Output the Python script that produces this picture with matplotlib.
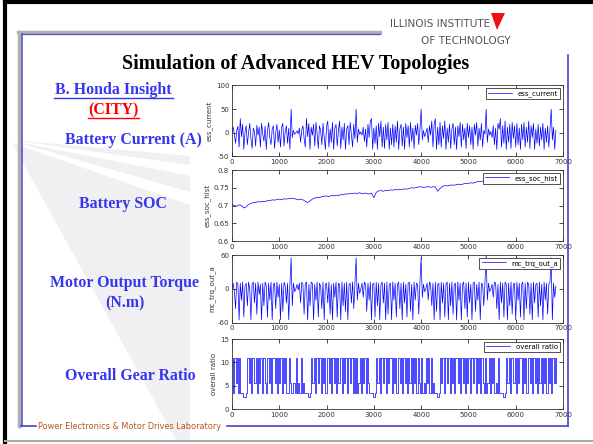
import numpy as np
import matplotlib
matplotlib.use("Agg")
import matplotlib.pyplot as plt
from matplotlib.patches import Polygon
from matplotlib.lines import Line2D

W, H = 593, 444

fast_step = 25   # sample spacing (s) for current / torque / ratio
soc_step = 50    # sample spacing (s) for SOC

ess_current = [
    0, 12, -3, -22, 5, 14, -30, 30, -8, 18, -35,
    2, 15, -25, 0, 20, -12, -33, 10, 3, -28, 16,
    -5, 12, -30, 20, -2, -18, 14, -35, 5, 22, -10,
    -25, 8, 15, -33, 0, 18, -20, 6, -30, 12, 20,
    -28, 3, 15, -22, 10, -35, 50, -10, 5, -3, 0,
    4, -2, 10, -20, 6, 15, -12, -30, 30, -8, 20,
    -35, 12, -5, 18, -28, 22, -2, -33, 15, 5, -25,
    20, -10, -35, 14, 25, -30, 8, -20, 22, -35, 10,
    18, -28, 3, 25, -33, 12, -15, 20, -35, 8, 15,
    -25, 22, -5, -30, 18, -12, 50, -20, 8, -3, 2,
    -5, 12, -18, 8, -30, 18, -10, 25, 30, -35, 10,
    -22, 15, -35, 20, -8, 25, -30, 12, -33, 18, -15,
    22, -35, 10, -25, 18, -30, 15, -20, 25, -35, 8,
    18, -28, 12, -35, 20, -10, 15, -30, 22, -18, 10,
    -33, 16, -5, 20, -25, 8, 50, -15, 5, -8, 0,
    10, -20, 15, -5, 25, -30, 18, 30, -35, 12, -25,
    22, -30, 15, -12, 25, -35, 10, -20, 18, -33, 8,
    20, -25, 12, -35, 15, -8, 22, -30, 18, -15, 10,
    -33, 20, -10, 15, -25, 12, -35, 18, -5, 22, -28,
    10, -15, 20, -30, 5, -3, 50, -20, 8, -5, 3,
    -10, 15, -25, 10, -35, 20, 8, 30, -30, 15, -22,
    25, -35, 12, -20, 18, -33, 22, -12, 15, -30, 20,
    -25, 10, -35, 18, -15, 22, -30, 12, -20, 25, -33,
    15, -10, 20, -35, 8, -22, 18, -28, 12, -15, 20,
    -35, 10, -20, 15, -30, 8, 50, -15, 12, -35, 5,
]

ess_soc_hist = [
    0.703, 0.700, 0.698, 0.702, 0.700, 0.693, 0.696, 0.703, 0.706, 0.708,
    0.708, 0.711, 0.710, 0.712, 0.711, 0.714, 0.713, 0.716, 0.715, 0.717,
    0.718, 0.716, 0.719, 0.718, 0.720, 0.719, 0.720, 0.718, 0.716, 0.718,
    0.716, 0.712, 0.708, 0.713, 0.718, 0.721, 0.723, 0.722, 0.725, 0.726,
    0.727, 0.725, 0.728, 0.727, 0.729, 0.728, 0.731, 0.730, 0.733, 0.732,
    0.734, 0.733, 0.735, 0.734, 0.736, 0.733, 0.735, 0.734, 0.732, 0.735,
    0.722, 0.737, 0.741, 0.742, 0.740, 0.743, 0.742, 0.744, 0.743, 0.745,
    0.744, 0.746, 0.745, 0.747, 0.746, 0.748, 0.750, 0.749, 0.751, 0.752,
    0.753, 0.751, 0.752, 0.753, 0.751, 0.753, 0.752, 0.740, 0.748, 0.754,
    0.756, 0.755, 0.757, 0.758, 0.757, 0.759, 0.760, 0.759, 0.761, 0.762,
    0.762, 0.764, 0.763, 0.765, 0.768, 0.767, 0.769, 0.768, 0.770, 0.769,
    0.771, 0.770, 0.762, 0.770, 0.773, 0.775, 0.774, 0.776, 0.777, 0.776,
    0.778, 0.779, 0.778, 0.780, 0.781, 0.780, 0.782, 0.783, 0.782, 0.784,
    0.785, 0.784, 0.786, 0.787, 0.786, 0.788, 0.787, 0.789,
]

mc_trq_out_a = [
    0, 10, -5, -35, 12, 8, -55, 10, -20, 12, -50,
    5, 10, -30, 12, 0, -55, 8, 12, -25, 10, -45,
    12, -10, 8, -55, 10, -30, 12, 5, -50, 10, -20,
    12, -55, 8, 10, -35, 12, -15, 8, -55, 10, -40,
    12, 5, -25, 10, -55, 8, 55, -30, 10, -5, 0,
    8, -2, 10, -25, 12, 8, -45, 10, 12, -55, 8,
    -30, 12, 10, -55, 8, -20, 12, -50, 10, 5, -35,
    12, -55, 8, 10, -25, 12, -45, 8, -55, 10, -15,
    12, -50, 10, 8, -55, 12, -30, 10, -40, 12, -55,
    8, 10, -25, 12, -35, 8, 55, -20, 10, -8, 0,
    10, -15, 12, 8, -40, 10, -20, 12, -55, 8, 10,
    -50, 12, -30, 10, -55, 8, 12, -25, 10, -55, 12,
    -45, 8, 10, -55, 12, -20, 10, -50, 8, 12, -35,
    10, -55, 12, -25, 8, -50, 10, 12, -40, 8, -55,
    12, -20, 10, 8, -45, 12, 55, -15, 8, -5, 0,
    10, -20, 12, 8, -30, 10, -55, 12, -40, 8, 10,
    -55, 12, -25, 10, -50, 8, 12, -55, 10, -30, 12,
    -45, 8, 10, -55, 12, -20, 10, -55, 8, 12, -35,
    10, -50, 12, -25, 8, -55, 10, 12, -40, 8, -20,
    12, -55, 10, 8, -30, 12, 60, -20, 10, -5, 0,
    8, -15, 12, 10, -35, 8, -55, 12, -25, 10, -50,
    12, 8, -55, 10, -30, 12, -45, 8, 10, -55, 12,
    -20, 10, -50, 8, 12, -55, 10, -35, 12, 8, -45,
    10, -55, 12, -25, 8, 10, -50, 12, -30, 8, -55,
    12, -20, 10, -45, 8, 12, 55, -55, 10, -15, 5,
]

overall_ratio = [
    11, 3.5, 11, 5.5, 11, 3.5, 11, 3.5, 3.5, 2.5, 2.5,
    2.5, 3.5, 11, 5.5, 11, 3.5, 11, 11, 5.5, 11, 3.5,
    11, 5.5, 11, 3.5, 11, 11, 5.5, 3.5, 11, 5.5, 11,
    3.5, 11, 11, 5.5, 11, 3.5, 11, 5.5, 11, 3.5, 11,
    5.5, 11, 3.5, 3.5, 11, 5.5, 3.5, 3.5, 5.5, 3.5, 11,
    3.5, 5.5, 3.5, 11, 3.5, 5.5, 3.5, 3.5, 3.5, 2.5, 2.5,
    3.5, 11, 5.5, 11, 3.5, 11, 11, 5.5, 11, 3.5, 11,
    5.5, 11, 3.5, 11, 11, 5.5, 11, 3.5, 11, 5.5, 11,
    3.5, 11, 5.5, 11, 11, 3.5, 11, 5.5, 11, 3.5, 11,
    11, 5.5, 11, 3.5, 11, 3.5, 11, 3.5, 5.5, 11, 3.5,
    11, 5.5, 11, 3.5, 11, 5.5, 3.5, 3.5, 3.5, 2.5, 2.5,
    3.5, 11, 5.5, 11, 3.5, 11, 11, 5.5, 11, 3.5, 11,
    5.5, 11, 11, 3.5, 11, 5.5, 11, 3.5, 11, 11, 5.5,
    11, 3.5, 11, 5.5, 11, 3.5, 11, 5.5, 11, 3.5, 11,
    5.5, 11, 3.5, 11, 5.5, 3.5, 11, 3.5, 5.5, 3.5, 11,
    5.5, 11, 3.5, 11, 3.5, 5.5, 3.5, 3.5, 2.5, 2.5, 3.5,
    11, 5.5, 11, 3.5, 11, 11, 5.5, 11, 3.5, 11, 5.5,
    11, 3.5, 11, 11, 5.5, 11, 3.5, 11, 5.5, 11, 3.5,
    11, 5.5, 11, 3.5, 11, 11, 5.5, 11, 3.5, 11, 5.5,
    11, 3.5, 11, 5.5, 3.5, 11, 3.5, 5.5, 11, 3.5, 11,
    5.5, 11, 3.5, 5.5, 3.5, 11, 3.5, 3.5, 3.5, 2.5, 2.5,
    3.5, 11, 5.5, 11, 3.5, 11, 11, 5.5, 11, 3.5, 11,
    5.5, 11, 11, 3.5, 11, 5.5, 11, 3.5, 11, 11, 5.5,
    11, 3.5, 11, 5.5, 11, 3.5, 11, 5.5, 11, 3.5, 11,
    5.5, 11, 3.5, 11, 5.5, 11, 3.5, 11, 5.5, 11, 5.5,
]

x_ticks = [0, 1000, 2000, 3000, 4000, 5000, 6000, 7000]

panels = [
    ("ess_current", ess_current, fast_step, (-50, 100), [-50, 0, 50, 100], ["-50", "0", "50", "100"], None),
    ("ess_soc_hist", ess_soc_hist, soc_step, (0.6, 0.8), [0.6, 0.65, 0.7, 0.75, 0.8], ["0.6", "0.65", "0.7", "0.75", "0.8"], None),
    ("mc_trq_out_a", mc_trq_out_a, fast_step, (-60, 60), [-60, 0, 60], ["-60", "0", "60"], None),
    ("overall ratio", overall_ratio, fast_step, (0, 15), [0, 5, 10, 15], ["0", "5", "10", "15"], "steps-post"),
]
boxes = [(85.5, 156.5), (170, 241), (255, 322.7), (339, 409)]
xl, xr = 232, 563


def fx(x):
    return x / W


def fy(y):
    return 1 - y / H


fig = plt.figure(figsize=(W / 100, H / 100), dpi=100)
fig.patch.set_facecolor("white")

# faint decorative fan behind the left-hand labels
bg = "#f0f0f3"
for pts in [
    [(12, 140), (190, 156), (190, 165)],
    [(12, 141), (190, 176), (190, 192)],
    [(12, 143), (190, 205), (190, 440), (176, 440)],
]:
    fig.patches.append(Polygon([(fx(a), fy(b)) for a, b in pts], closed=True,
                               transform=fig.transFigure, facecolor=bg,
                               edgecolor="none", zorder=0))


def fline(xs, ys, color, lw, z=1):
    fig.add_artist(Line2D([fx(v) for v in xs], [fy(v) for v in ys],
                          color=color, lw=lw, transform=fig.transFigure, zorder=z))


# outer frame
fline([5, 5], [2, 444], "black", 3)
fline([5, 593], [2.5, 2.5], "black", 3)
fline([5, 593], [440.5, 440.5], "#aaaaaa", 1.5)
# inner slide frame
fline([18, 380], [32, 32], "#b0b0b0", 2.5)
fline([21, 380], [34, 34], "#5555cc", 1)
fline([19, 19], [32, 426], "#b0b0b0", 2.5)
fline([21.5, 21.5], [34, 426], "#5555cc", 1.2)
fline([21, 36], [426, 426], "#4444cc", 1.2)
fline([227, 568], [426, 426], "#4444cc", 1.2)
fline([568, 568], [55, 426], "#4444cc", 1.2)

# IIT logo
fig.text(fx(490), fy(27), "ILLINOIS INSTITUTE", ha="right", va="baseline",
         fontsize=7.6, color="#555555", family="DejaVu Sans")
fig.text(fx(511), fy(44), "OF TECHNOLOGY", ha="right", va="baseline",
         fontsize=7.6, color="#555555", family="DejaVu Sans")
fig.patches.append(Polygon([(fx(491), fy(13)), (fx(505), fy(13)), (fx(497), fy(30))],
                           closed=True, transform=fig.transFigure,
                           facecolor="#ee1111", edgecolor="none"))

# title
fig.text(fx(296), fy(64), "Simulation of Advanced HEV Topologies", ha="center",
         va="center", fontsize=14.4, fontweight="bold", family="Liberation Serif",
         color="black")

blue = "#3636ee"
lab = dict(ha="center", va="center", fontsize=11.4, fontweight="bold",
           family="Liberation Serif", color=blue)
fig.text(fx(113), fy(90), "B. Honda Insight", **lab)
fline([54, 173], [98.5, 98.5], blue, 1)
fig.text(fx(113), fy(110), "(CITY)", **{**lab, "color": "#ff0000"})
fline([88, 139], [118.5, 118.5], "#ff0000", 1)
fig.text(fx(133), fy(140), "Battery Current (A)", **lab)
fig.text(fx(123), fy(204), "Battery SOC", **lab)
fig.text(fx(125), fy(283), "Motor Output Torque", **lab)
fig.text(fx(125), fy(303), "(N.m)", **lab)
fig.text(fx(130), fy(376), "Overall Gear Ratio", **lab)

# footer
fig.text(fx(38), fy(426), "Power Electronics & Motor Drives Laboratory", ha="left",
         va="center", fontsize=5.9, color="#b8561e", family="DejaVu Sans")

for (name, vals, stp, ylim, yt, ytl, ds), (top, bot) in zip(panels, boxes):
    ax = fig.add_axes([fx(xl), fy(bot), (xr - xl) / W, (bot - top) / H])
    ax.set_facecolor("white")
    t = np.arange(len(vals)) * stp
    kw = {"drawstyle": ds} if ds else {}
    ax.plot(t, vals, color="#0000ff", lw=0.5, label=name, **kw)
    ax.set_xlim(0, 7000)
    ax.set_ylim(*ylim)
    ax.set_xticks(x_ticks)
    ax.set_xticklabels([str(v) for v in x_ticks])
    ax.set_yticks(yt)
    ax.set_yticklabels(ytl)
    ax.tick_params(direction="in", length=3, width=0.5, labelsize=5,
                   labelcolor="#333333", top=True, right=True, pad=2)
    for sp in ax.spines.values():
        sp.set_linewidth(0.6)
        sp.set_color("#333333")
    ax.set_ylabel(name, fontsize=5, color="#333333", labelpad=2)
    leg = ax.legend(loc="upper right", fontsize=5, handlelength=3.5,
                    fancybox=False, framealpha=1, edgecolor="#333333",
                    borderaxespad=0.4, borderpad=0.3, handletextpad=0.8)
    leg.get_frame().set_linewidth(0.6)
    leg.set_zorder(5)

fig.savefig("out.png", dpi=100, facecolor="white")
